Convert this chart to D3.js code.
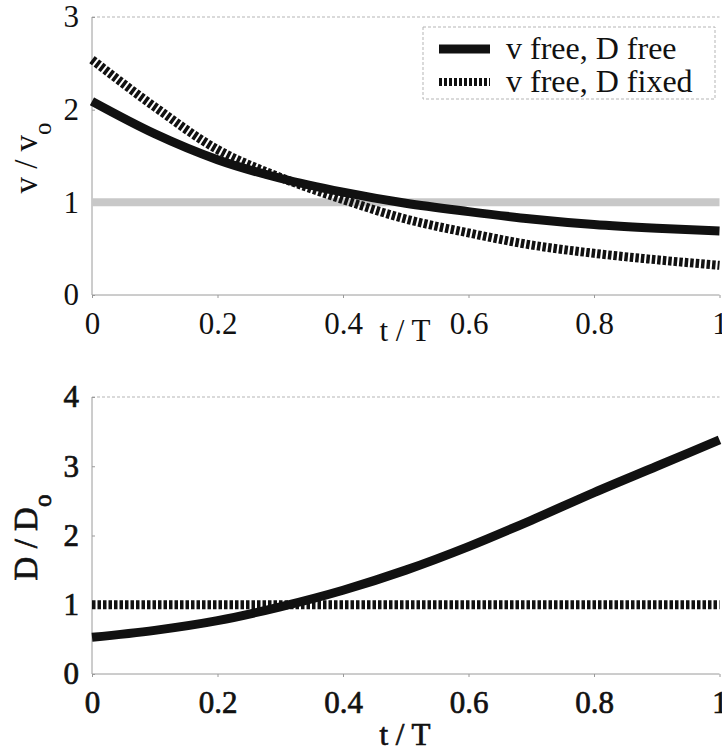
<!DOCTYPE html>
<html>
<head>
<meta charset="utf-8">
<script src="https://cdn.jsdelivr.net/npm/d3@7"></script>
<style>
  body { margin: 0; background: #fff; }
  svg text { font-family: "Liberation Serif", "DejaVu Serif", serif !important; fill: #111; }
</style>
</head>
<body>
<svg id="chart"></svg>
<script>
const width = 722, height = 751;

// t / T sample points
const tValues = [0, 0.1, 0.2, 0.3, 0.4, 0.5, 0.6, 0.7, 0.8, 0.9, 1.0];

// top panel: v / vo
const vFreeDFree = [2.09, 1.74, 1.46, 1.26, 1.11, 0.99, 0.90, 0.82, 0.76, 0.72, 0.69];
const vFreeDFixed = [2.54, 2.03, 1.57, 1.27, 1.03, 0.82, 0.67, 0.54, 0.45, 0.38, 0.32];
const vReference = [1, 1, 1, 1, 1, 1, 1, 1, 1, 1, 1];

// bottom panel: D / Do
const dFreeDFree = [0.53, 0.63, 0.77, 0.97, 1.21, 1.50, 1.84, 2.22, 2.62, 3.00, 3.38];
const dFreeDFixed = [1, 1, 1, 1, 1, 1, 1, 1, 1, 1, 1];

const xTicks = [0, 0.2, 0.4, 0.6, 0.8, 1];
const vTicks = [0, 1, 2, 3];
const dTicks = [0, 1, 2, 3, 4];
const legendLabels = ["v free, D free", "v free, D fixed"];

const svg = d3.select("#chart")
    .attr("width", width)
    .attr("height", height);

const x = d3.scaleLinear().domain([0, 1]).range([92, 719.5]);
const yTop = d3.scaleLinear().domain([0, 3]).range([295, 17]);
const yBot = d3.scaleLinear().domain([0, 4]).range([674, 397]);

function series(vals) {
    return tValues.map(function (t, i) { return { t: t, v: vals[i] }; });
}

const serif = "'Liberation Serif', 'DejaVu Serif', serif";

// the lower panel of the scan is printed a little heavier
function drawPanel(y, ticks, labelMain, labelSub, xLabelY, heavy) {
    const g = svg.append("g");

    // frame: left, bottom and top lines, light and thin like the scan
    g.append("line")
        .attr("x1", x(0)).attr("x2", x(0))
        .attr("y1", y.range()[0]).attr("y2", y.range()[1])
        .attr("stroke", "#9a9a9a").attr("stroke-width", 1);
    g.append("line")
        .attr("x1", x(0)).attr("x2", x(1))
        .attr("y1", y.range()[0]).attr("y2", y.range()[0])
        .attr("stroke", "#9a9a9a").attr("stroke-width", 1);
    g.append("line")
        .attr("x1", x(0)).attr("x2", x(1))
        .attr("y1", y.range()[1]).attr("y2", y.range()[1])
        .attr("stroke", "#b5b5b5").attr("stroke-width", 1)
        .attr("stroke-dasharray", "3,2");

    const xAxis = g.append("g")
        .attr("transform", "translate(0," + y.range()[0] + ")")
        .call(d3.axisBottom(x).tickValues(xTicks).tickSize(3).tickPadding(14)
            .tickFormat(function (d) { return d === 0 || d === 1 ? d3.format("d")(d) : d3.format(".1f")(d); }));
    xAxis.attr("font-family", null);
    xAxis.select(".domain").remove();
    xAxis.selectAll("line").attr("stroke", "#9a9a9a");
    xAxis.selectAll("text")
        .style("font-size", "31px").style("font-family", serif);

    const yAxis = g.append("g")
        .attr("transform", "translate(" + x(0) + ",0)")
        .call(d3.axisLeft(y).tickValues(ticks).tickSize(3).tickPadding(10)
            .tickFormat(d3.format("d")));
    yAxis.attr("font-family", null);
    yAxis.select(".domain").remove();
    yAxis.selectAll("line").attr("stroke", "#9a9a9a").attr("x2", 3);
    yAxis.selectAll("text")
        .style("font-size", "31px").style("font-family", serif);

    g.append("text")
        .attr("x", 405).attr("y", xLabelY)
        .attr("text-anchor", "middle")
        .style("font-size", "31px")
        .text("t / T");

    const yl = g.append("text")
        .attr("transform", "translate(37," + ((y.range()[0] + y.range()[1]) / 2 + 2) + ") rotate(-90)")
        .attr("text-anchor", "middle")
        .style("font-size", "33px");
    yl.append("tspan").text(labelMain);
    yl.append("tspan").style("font-size", "25px").attr("dy", 14).text(labelSub);

    if (heavy) {
        g.selectAll("text").attr("stroke", "#111").attr("stroke-width", 0.7);
    }
    return g;
}

const topPanel = drawPanel(yTop, vTicks, "v / v", "o", 341, false);
const botPanel = drawPanel(yBot, dTicks, "D / D", "o", 745, true);

function lineFor(y) {
    return d3.line()
        .x(function (d) { return x(d.t); })
        .y(function (d) { return y(d.v); })
        .curve(d3.curveMonotoneX);
}

const solid = { stroke: "#111", width: 9, dash: null };
const dotted = { stroke: "#111", width: 9, dash: "3.5,2" };

function drawLine(g, y, vals, st) {
    g.append("path")
        .datum(series(vals))
        .attr("fill", "none")
        .attr("stroke", st.stroke)
        .attr("stroke-width", st.width)
        .attr("stroke-dasharray", st.dash)
        .attr("d", lineFor(y));
}

drawLine(topPanel, yTop, vReference, { stroke: "#c8c8c8", width: 8, dash: null });
drawLine(topPanel, yTop, vFreeDFixed, dotted);
drawLine(topPanel, yTop, vFreeDFree, solid);

drawLine(botPanel, yBot, dFreeDFixed, dotted);
drawLine(botPanel, yBot, dFreeDFree, solid);

// legend
const legend = svg.append("g");
legend.append("rect")
    .attr("x", 423).attr("y", 27).attr("width", 292).attr("height", 72)
    .attr("fill", "#fff").attr("stroke", "#b5b5b5").attr("stroke-width", 1)
    .attr("stroke-dasharray", "3,2");

const legendStyles = [solid, { stroke: "#111", width: 8, dash: "3,2" }];
legendLabels.forEach(function (label, i) {
    const ly = 49 + i * 33;
    legend.append("line")
        .attr("x1", 439).attr("x2", 490)
        .attr("y1", ly).attr("y2", ly)
        .attr("stroke", legendStyles[i].stroke)
        .attr("stroke-width", legendStyles[i].width)
        .attr("stroke-dasharray", legendStyles[i].dash);
    legend.append("text")
        .attr("x", 506).attr("y", ly)
        .attr("dy", "0.32em")
        .style("font-size", "32px")
        .text(label);
});
</script>
</body>
</html>
